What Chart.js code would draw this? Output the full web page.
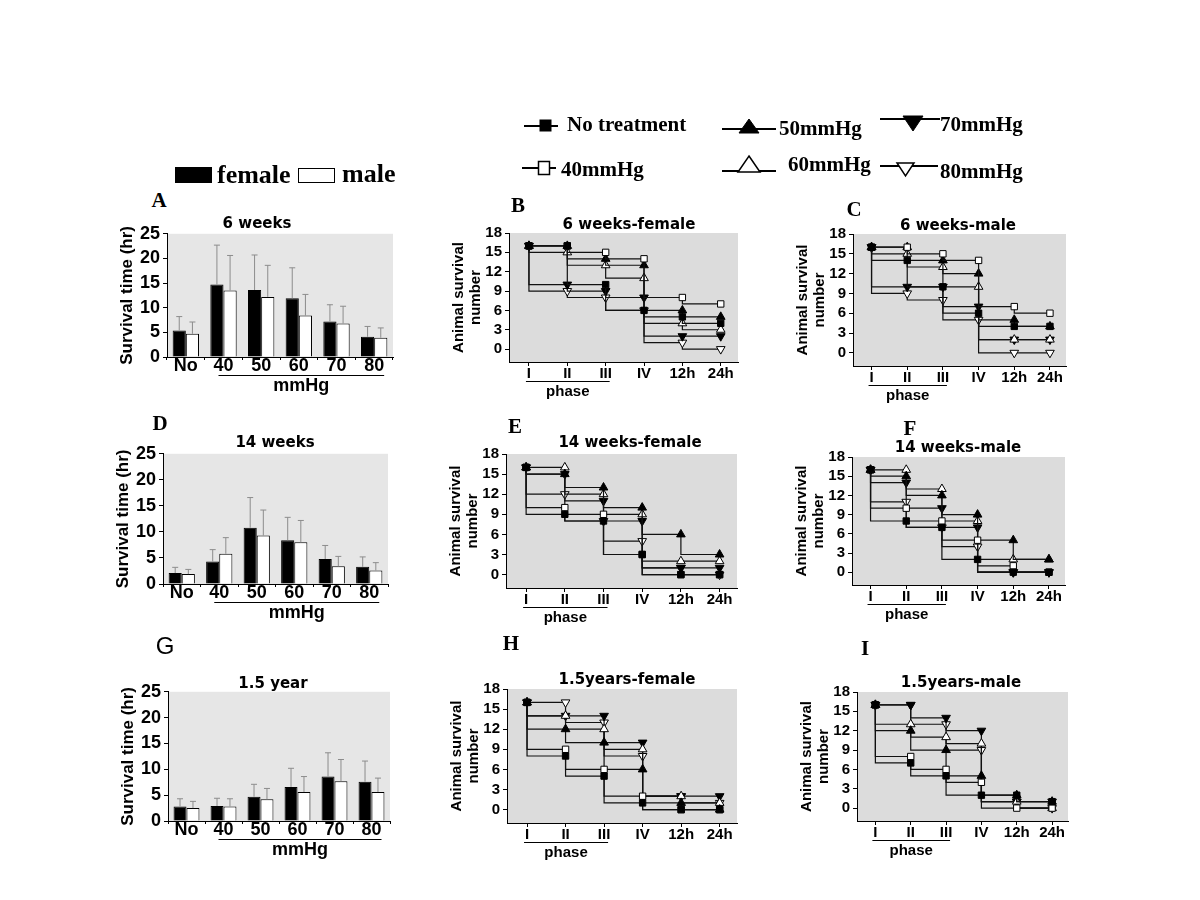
<!DOCTYPE html>
<html>
<head>
<meta charset="utf-8">
<script src="https://cdn.jsdelivr.net/npm/chart.js@4.4.0/dist/chart.umd.min.js"></script>
<style>
  body { margin: 0; background: #fff; }
  #fig { position: relative; width: 1200px; height: 900px; overflow: hidden; }
  .abs { position: absolute; white-space: nowrap; line-height: 1; color: #000; }
  .c { transform: translate(-50%, -50%); }
  .l { transform: translateY(-50%); }
  .ptitle { font: bold 15px "DejaVu Sans"; }
  .letter { font: bold 21px "Liberation Serif"; }
  .letter-sans { font: 24px "Liberation Sans"; }
  .note-bar { font: bold 18px "Liberation Sans"; }
  .note-step { font: bold 15px "Liberation Sans"; }
  .leg { font: bold 21px "Liberation Serif"; }
  .leg-big { font: bold 26px "Liberation Serif"; }
  canvas { position: absolute; }
</style>
</head>
<body>
<div id="fig"></div>
<script>
// categorias e rótulos
const barCategories = ['No', '40', '50', '60', '70', '80'];
const stageLabels = ['I', 'II', 'III', 'IV', '12h', '24h'];
const seriesNames = ['No treatment', '40mmHg', '50mmHg', '60mmHg', '70mmHg', '80mmHg'];

// survival time (hr): mean and SD, 6 weeks
const femaleMean6w = [5.4, 14.7, 13.6, 11.9, 7.2, 4.1];
const femaleSd6w   = [2.8, 8.0, 7.1, 6.2, 3.4, 2.1];
const maleMean6w   = [4.7, 13.5, 12.2, 8.4, 6.8, 3.9];
const maleSd6w     = [2.4, 7.1, 6.4, 4.3, 3.5, 2.0];

// 14 weeks
const femaleMean14w = [2.1, 4.3, 10.8, 8.4, 4.8, 3.3];
const femaleSd14w   = [1.1, 2.3, 5.8, 4.4, 2.6, 1.9];
const maleMean14w   = [1.9, 5.8, 9.3, 8.0, 3.4, 2.6];
const maleSd14w     = [0.9, 3.1, 4.9, 4.2, 1.9, 1.5];

// 1.5 year
const femaleMean15y = [2.8, 2.9, 4.7, 6.6, 8.6, 7.6];
const femaleSd15y   = [1.5, 1.5, 2.4, 3.6, 4.6, 4.0];
const maleMean15y   = [2.5, 2.8, 4.2, 5.6, 7.7, 5.6];
const maleSd15y     = [1.3, 1.5, 2.1, 3.0, 4.2, 2.7];

// animal survival number per stage, rows in seriesNames order
const survival6wFemale = [
  [16, 16, 10, 6, 5, 4],
  [16, 16, 15, 14, 8, 7],
  [16, 16, 14, 13, 6, 5],
  [16, 15, 13, 11, 4, 3],
  [16, 10, 9, 8, 2, 2],
  [16, 9, 8, 6, 1, 0]
];
const survival6wMale = [
  [16, 14, 10, 6, 4, 4],
  [16, 16, 15, 14, 7, 6],
  [16, 16, 14, 12, 5, 4],
  [16, 15, 13, 10, 2, 2],
  [16, 10, 10, 7, 2, 2],
  [16, 9, 8, 5, 0, 0]
];
const survival14wFemale = [
  [16, 9, 8, 3, 0, 0],
  [16, 10, 9, 3, 0, 0],
  [16, 15, 13, 10, 6, 3],
  [16, 16, 12, 9, 2, 2],
  [16, 15, 11, 8, 1, 1],
  [16, 12, 8, 5, 1, 0]
];
const survival14wMale = [
  [16, 8, 7, 2, 0, 0],
  [16, 10, 8, 5, 1, 0],
  [16, 15, 12, 9, 5, 2],
  [16, 16, 13, 8, 2, 2],
  [16, 14, 10, 7, 0, 0],
  [16, 11, 7, 4, 0, 0]
];
const survival15yFemale = [
  [16, 8, 5, 1, 0, 0],
  [16, 9, 6, 2, 0, 0],
  [16, 12, 10, 6, 1, 0],
  [16, 14, 12, 9, 2, 1],
  [16, 14, 14, 10, 2, 2],
  [16, 16, 13, 8, 2, 1]
];
const survival15yMale = [
  [16, 7, 5, 2, 2, 1],
  [16, 8, 6, 4, 0, 0],
  [16, 12, 9, 5, 2, 1],
  [16, 13, 11, 10, 1, 0],
  [16, 16, 14, 12, 1, 1],
  [16, 16, 13, 9, 1, 0]
];

// marcadores de cada série
const markers = [
  { style: 'rect', rot: 0, r: 4.5, fill: '#000' },
  { style: 'rect', rot: 0, r: 4.5, fill: '#fff' },
  { style: 'triangle', rot: 0, r: 5, fill: '#000' },
  { style: 'triangle', rot: 0, r: 5, fill: '#fff' },
  { style: 'triangle', rot: 180, r: 5, fill: '#000' },
  { style: 'triangle', rot: 180, r: 5, fill: '#fff' }
];

Chart.defaults.color = '#000';
Chart.defaults.font.family = '"Liberation Sans", Arial, sans-serif';

const fig = document.getElementById('fig');

function addText(txt, x, y, cls) {
  const d = document.createElement('div');
  d.className = 'abs ' + cls;
  d.textContent = txt;
  d.style.left = x + 'px';
  d.style.top = y + 'px';
  fig.appendChild(d);
  return d;
}

function makeCanvas(left, top, w, h) {
  const cv = document.createElement('canvas');
  cv.width = Math.round(w);
  cv.height = Math.round(h);
  cv.style.left = left + 'px';
  cv.style.top = top + 'px';
  fig.appendChild(cv);
  return cv;
}

// fundo cinza da área do gráfico
const plotBackground = {
  id: 'plotBackground',
  beforeDraw(chart, args, opts) {
    const a = chart.chartArea, ctx = chart.ctx;
    ctx.save();
    ctx.fillStyle = opts.color;
    ctx.fillRect(a.left, a.top, a.right - a.left, a.bottom - a.top);
    ctx.restore();
  }
};

// barras de erro (mean + SD)
const errorBars = {
  id: 'errorBars',
  afterDatasetsDraw(chart) {
    const ctx = chart.ctx, y = chart.scales.y;
    chart.data.datasets.forEach((ds, i) => {
      chart.getDatasetMeta(i).data.forEach((bar, j) => {
        const top = y.getPixelForValue(ds.data[j] + ds.sd[j]);
        ctx.save();
        ctx.strokeStyle = '#8c8c8c';
        ctx.lineWidth = 1;
        ctx.beginPath();
        ctx.moveTo(bar.x, bar.y);
        ctx.lineTo(bar.x, top);
        ctx.moveTo(bar.x - 3, top);
        ctx.lineTo(bar.x + 3, top);
        ctx.stroke();
        ctx.restore();
      });
    });
  }
};

// linha sob os rótulos agrupados (mmHg / phase)
const underline = {
  id: 'underline',
  afterDraw(chart, args, opts) {
    const xs = chart.scales.x, ctx = chart.ctx;
    const y = chart.chartArea.bottom + opts.dy + 0.5;
    ctx.save();
    ctx.strokeStyle = '#000';
    ctx.lineWidth = 1;
    ctx.beginPath();
    ctx.moveTo(xs.getPixelForValue(opts.from) + opts.dx0, y);
    ctx.lineTo(xs.getPixelForValue(opts.to) + opts.dx1, y);
    ctx.stroke();
    ctx.restore();
  }
};

function barPanel(box, female, femaleSd, male, maleSd) {
  const yW = 62, topPad = 12, rightPad = 6, xH = 38;
  const L = box[0] - yW, T = box[1] - topPad;
  const W = box[2] + rightPad - L, H = box[3] + xH - T;
  const chart = new Chart(makeCanvas(L, T, W, H), {
    type: 'bar',
    data: {
      labels: barCategories,
      datasets: [
        { label: 'female', data: female, sd: femaleSd, backgroundColor: '#000', borderColor: '#000', borderWidth: 1 },
        { label: 'male', data: male, sd: maleSd, backgroundColor: '#fff', borderColor: '#000', borderWidth: 1 }
      ]
    },
    options: {
      responsive: false,
      animation: false,
      devicePixelRatio: 1,
      layout: { padding: { left: 0, top: topPad, right: rightPad, bottom: 0 } },
      datasets: { bar: { categoryPercentage: 0.7, barPercentage: 1 } },
      plugins: {
        legend: { display: false },
        tooltip: { enabled: false },
        plotBackground: { color: '#e6e6e6' },
        underline: { from: 1, to: 5, dx0: -5, dx1: 10, dy: 18 }
      },
      scales: {
        x: {
          offset: true,
          grid: { offset: true, drawOnChartArea: false, tickLength: 3, color: '#000' },
          border: { color: '#000' },
          ticks: { font: { size: 18, weight: 'bold', lineHeight: 1 }, padding: -3, maxRotation: 0 },
          afterFit: s => { s.height = xH; }
        },
        y: {
          min: 0,
          max: 25,
          ticks: { stepSize: 5, font: { size: 18, weight: 'bold' }, padding: 3 },
          grid: { drawOnChartArea: false, tickLength: 4, color: '#000' },
          border: { color: '#000' },
          title: {
            display: true,
            text: 'Survival time (hr)',
            font: { size: 17, weight: 'bold', lineHeight: 1.2 },
            padding: { top: 12, bottom: 0 }
          },
          afterFit: s => { s.width = yW; }
        }
      }
    },
    plugins: [plotBackground, errorBars, underline]
  });
  const xs = chart.scales.x, u = chart.options.plugins.underline;
  const mid = (xs.getPixelForValue(u.from) + u.dx0 + xs.getPixelForValue(u.to) + u.dx1) / 2;
  addText('mmHg', L + mid, box[3] + 28, 'c note-bar');
}

function stepPanel(box, rows) {
  const yW = 70, topPad = 10, rightPad = 6, xH = 38;
  const L = box[0] - yW, T = box[1] - topPad;
  const W = box[2] + rightPad - L, H = box[3] + xH - T;
  const chart = new Chart(makeCanvas(L, T, W, H), {
    type: 'line',
    data: {
      datasets: seriesNames.map((name, k) => ({
        label: name,
        data: rows[k].map((v, i) => ({ x: i, y: v })),
        stepped: 'after',
        fill: false,
        borderColor: '#111',
        borderWidth: 1.2,
        pointStyle: markers[k].style,
        pointRotation: markers[k].rot,
        pointRadius: markers[k].r,
        pointBackgroundColor: markers[k].fill,
        pointBorderColor: '#000',
        pointBorderWidth: 1
      }))
    },
    options: {
      responsive: false,
      animation: false,
      devicePixelRatio: 1,
      layout: { padding: { left: 0, top: topPad, right: rightPad, bottom: 0 } },
      plugins: {
        legend: { display: false },
        tooltip: { enabled: false },
        plotBackground: { color: '#dcdcdc' },
        underline: { from: 0, to: 2, dx0: -3, dx1: 4, dy: 19 }
      },
      scales: {
        x: {
          type: 'linear',
          min: -0.52,
          max: 5.45,
          afterBuildTicks: s => { s.ticks = stageLabels.map((t, i) => ({ value: i })); },
          ticks: {
            callback: v => stageLabels[v],
            font: { size: 15, weight: 'bold', lineHeight: 1 },
            padding: 0,
            autoSkip: false,
            maxRotation: 0
          },
          grid: { drawOnChartArea: false, tickLength: 4, color: '#000' },
          border: { color: '#000' },
          afterFit: s => { s.height = xH; }
        },
        y: {
          min: -2,
          max: 18,
          afterBuildTicks: s => { s.ticks = [0, 3, 6, 9, 12, 15, 18].map(v => ({ value: v })); },
          ticks: { font: { size: 15, weight: 'bold' }, padding: 3 },
          grid: { drawOnChartArea: false, tickLength: 4, color: '#000' },
          border: { color: '#000' },
          title: {
            display: true,
            text: ['Animal survival', 'number'],
            font: { size: 15, weight: 'bold', lineHeight: 17 / 15 },
            padding: { top: yW - 50 - 8.5, bottom: 0 }
          },
          afterFit: s => { s.width = yW; }
        }
      }
    },
    plugins: [plotBackground, underline]
  });
  const xs = chart.scales.x, u = chart.options.plugins.underline;
  const mid = (xs.getPixelForValue(u.from) + u.dx0 + xs.getPixelForValue(u.to) + u.dx1) / 2;
  addText('phase', L + mid, box[3] + 28, 'c note-step');
}

// painéis de barras (A, D, G)
barPanel([167, 232, 393, 357], femaleMean6w, femaleSd6w, maleMean6w, maleSd6w);
barPanel([163, 452, 388, 584], femaleMean14w, femaleSd14w, maleMean14w, maleSd14w);
barPanel([168, 690, 390, 821], femaleMean15y, femaleSd15y, maleMean15y, maleSd15y);

// painéis de sobrevivência (B, C, E, F, H, I)
stepPanel([509, 231, 738, 362], survival6wFemale);
stepPanel([853, 232, 1066, 366], survival6wMale);
stepPanel([506, 452, 737, 588], survival14wFemale);
stepPanel([852, 455, 1065, 585], survival14wMale);
stepPanel([507, 687, 737, 823], survival15yFemale);
stepPanel([857, 690, 1068, 821], survival15yMale);

// títulos dos painéis
addText('6 weeks', 257, 223, 'c ptitle');
addText('14 weeks', 275, 442, 'c ptitle');
addText('1.5 year', 273, 683, 'c ptitle');
addText('6 weeks-female', 629, 224, 'c ptitle');
addText('6 weeks-male', 958, 225, 'c ptitle');
addText('14 weeks-female', 630, 442, 'c ptitle');
addText('14 weeks-male', 958, 447, 'c ptitle');
addText('1.5years-female', 627, 679, 'c ptitle');
addText('1.5years-male', 961, 682, 'c ptitle');

// letras dos painéis
addText('A', 159, 200, 'c letter');
addText('B', 518, 205, 'c letter');
addText('C', 854, 209, 'c letter');
addText('D', 160, 423, 'c letter');
addText('E', 515, 426, 'c letter');
addText('F', 910, 428, 'c letter');
addText('G', 165, 646, 'c letter-sans');
addText('H', 511, 643, 'c letter');
addText('I', 865, 648, 'c letter');

// legenda (símbolos)
fig.insertAdjacentHTML('beforeend',
  '<svg class="abs" style="left:0;top:0" width="1200" height="200" xmlns="http://www.w3.org/2000/svg">' +
  '<g stroke="#000" stroke-width="2">' +
  '<line x1="524" y1="126" x2="558" y2="126"/>' +
  '<rect x="540" y="120" width="11" height="11" fill="#000" stroke-width="1"/>' +
  '<line x1="722" y1="129" x2="776" y2="129"/>' +
  '<polygon points="749,119 759,133 739,133" fill="#000" stroke-width="1"/>' +
  '<line x1="880" y1="119" x2="940" y2="119"/>' +
  '<polygon points="903,116 923,116 913,131" fill="#000" stroke-width="1"/>' +
  '<line x1="522" y1="168" x2="556" y2="168"/>' +
  '<rect x="538.5" y="161.5" width="11" height="13" fill="#fff" stroke-width="1.5"/>' +
  '<line x1="722" y1="171" x2="776" y2="171"/>' +
  '<polygon points="749,156 760,172 738,172" fill="#fff" stroke-width="1.5"/>' +
  '<line x1="880" y1="166" x2="938" y2="166"/>' +
  '<polygon points="897,163 914,163 905.5,176" fill="#fff" stroke-width="1.5"/>' +
  '</g>' +
  '<rect x="175" y="167" width="37" height="16" fill="#000"/>' +
  '<rect x="298.5" y="168.5" width="36" height="14" fill="#fff" stroke="#000" stroke-width="1"/>' +
  '</svg>');

// legenda (textos)
addText('No treatment', 567, 124, 'l leg');
addText('50mmHg', 779, 128, 'l leg');
addText('70mmHg', 940, 124, 'l leg');
addText('40mmHg', 561, 169, 'l leg');
addText('60mmHg', 788, 164, 'l leg');
addText('80mmHg', 940, 171, 'l leg');
addText('female', 217, 175, 'l leg-big');
addText('male', 342, 174, 'l leg-big');
</script>
</body>
</html>
